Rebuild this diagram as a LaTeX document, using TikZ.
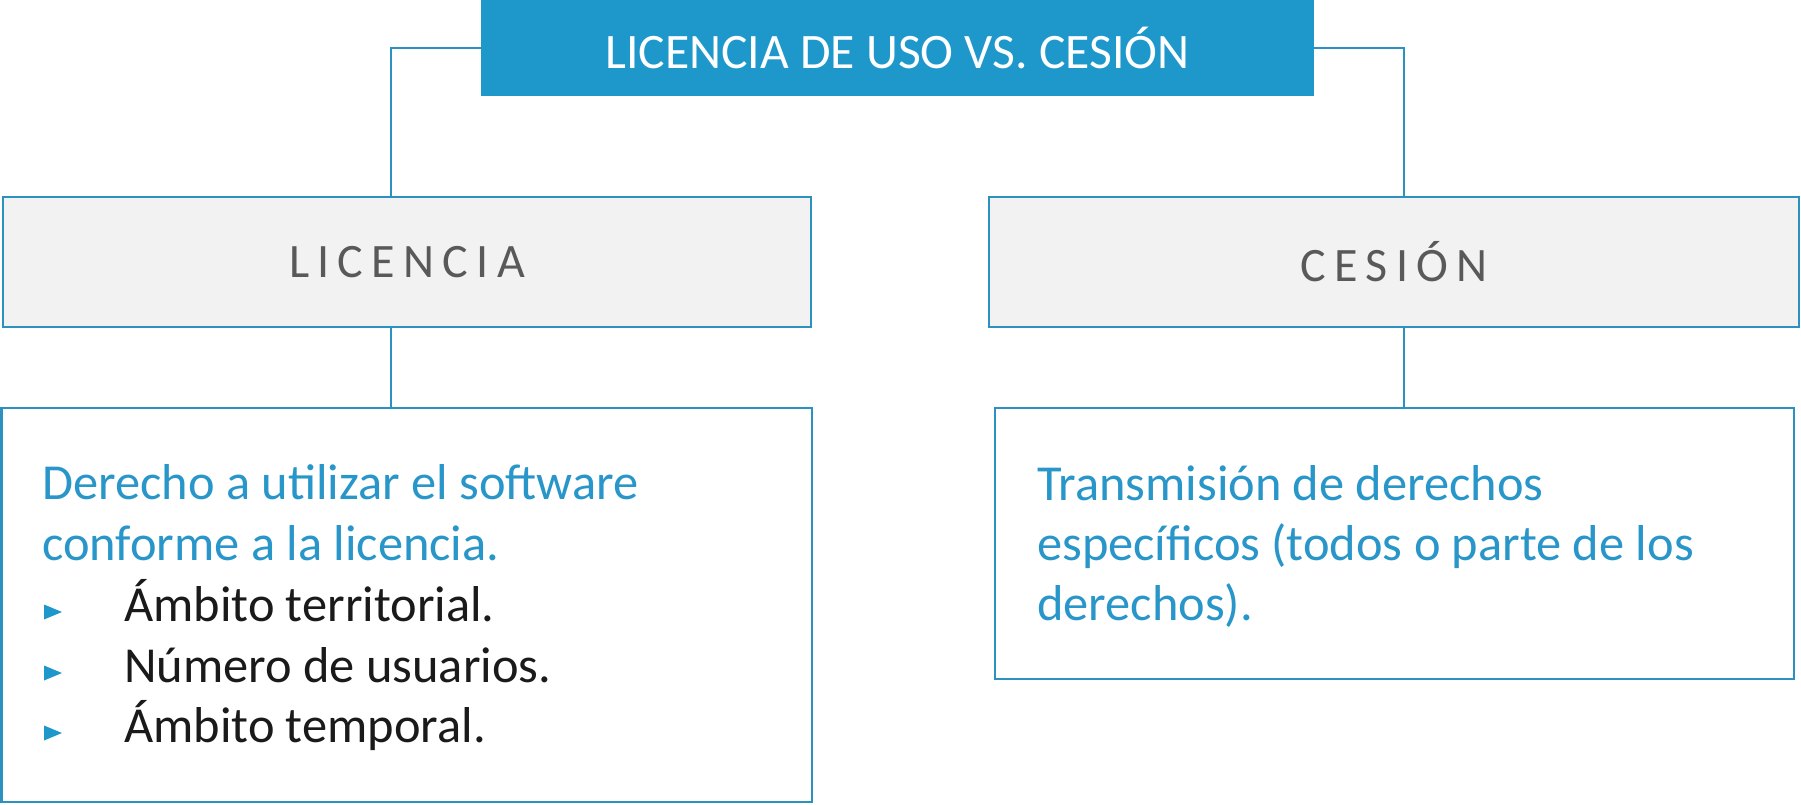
\documentclass[tikz,border=0pt]{standalone}
\usepackage{fontspec}
\setmainfont{Carlito}
\definecolor{topblue}{HTML}{1E98CB}
\definecolor{lineblue}{HTML}{2B91C1}
\definecolor{textblue}{HTML}{2996CA}
\definecolor{greytext}{HTML}{595959}
\definecolor{boxgrey}{HTML}{F2F2F2}
\definecolor{itemtext}{HTML}{1A1A1A}
\newcommand{\lsk}{\kern8.3pt}
\begin{document}
\begin{tikzpicture}[x=1pt,y=-1pt,
  titlebox/.style={fill=topblue, draw=none, inner sep=0pt, text=white,
    font=\fontsize{49.6}{59}\selectfont},
  headbox/.style={fill=boxgrey, draw=lineblue, line width=2.5pt, inner sep=0pt,
    text=greytext, font=\fontsize{48}{58}\selectfont},
  bodybox/.style={fill=white, draw=lineblue, line width=2.5pt, inner sep=0pt},
  bluetext/.style={text=textblue, inner sep=0pt, anchor=base west, align=left,
    font=\fontsize{50.4}{60.5}\selectfont},
  itemtxt/.style={text=itemtext, inner sep=0pt, anchor=base west,
    font=\fontsize{50.4}{60.5}\selectfont},
  conn/.style={draw=lineblue, line width=2.3pt},
  bulletmark/.style={fill=topblue}]
\useasboundingbox (0,0) rectangle (1801,804);

% boxes
\node[titlebox, minimum width=833pt, minimum height=95.7pt] (top) at (897.5,47.85)
  {LICENCIA DE USO VS. CESIÓN};
\node[headbox, minimum width=808pt, minimum height=130pt] (lic) at (407,262)
  {L\lsk I\lsk C\lsk E\lsk N\lsk C\lsk I\lsk A};
\node[headbox, minimum width=810pt, minimum height=130pt] (ces) at (1394,262)
  {C\lsk E\lsk S\lsk I\lsk Ó\lsk N};
\node[bodybox, minimum width=810.5pt, minimum height=394pt] (lowL) at (406.75,605) {};
\node[bodybox, minimum width=799pt, minimum height=271pt] (lowR) at (1394.5,543.5) {};

% connectors
\coordinate (cl) at (391,48);
\coordinate (cr) at (1404,48);
\draw[conn] (top.west |- cl) -- (cl) -- (cl |- lic.north);
\draw[conn] (top.east |- cr) -- (cr) -- (cr |- ces.north);
\draw[conn] (cl |- lic.south) -- (cl |- lowL.north);
\draw[conn] (cr |- ces.south) -- (cr |- lowR.north);

% left body text
\node[bluetext] (l1) at (42,499) {Derecho a utilizar el software};
\node[bluetext] (l2) at (42,560) {conforme a la licencia.};
\node[itemtxt] (i1) at (124,621) {Ámbito territorial.};
\node[itemtxt] (i2) at (124,682) {Número de usuarios.};
\node[itemtxt] (i3) at (124,742) {Ámbito temporal.};
\foreach \n in {i1,i2,i3}
  \fill[bulletmark] (\n.base west) ++(-80,-16.5) -- ++(18,7.5) -- ++(-18,7.5) -- cycle;

% right body text
\node[bluetext] (r1) at (1037,500) {Transmisión de derechos};
\node[bluetext] (r2) at (1037,560) {específicos (todos o parte de los};
\node[bluetext] (r3) at (1037,620) {derechos).};
\end{tikzpicture}
\end{document}
